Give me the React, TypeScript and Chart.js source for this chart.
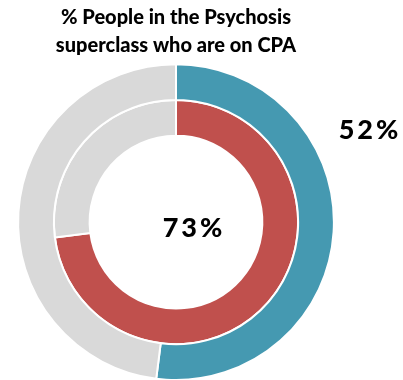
import React, { useEffect, useRef } from "react";
import { Chart, registerables } from "chart.js";

Chart.register(...registerables);

const titleLines = ["% People in the Psychosis", "superclass who are on CPA"];
const categories = ["On CPA", "Not on CPA"];
const outerValues = [52, 48];
const innerValues = [73, 27];
const outerColors = ["#4599B1", "#D9D9D9"];
const innerColors = ["#C0504D", "#D9D9D9"];

const labelPlugin = {
  id: "pctLabels",
  afterDraw(chart: any) {
    const meta = chart.getDatasetMeta(0);
    const arc = meta.data[0];
    if (!arc) return;
    const cx = arc.x;
    const cy = arc.y;
    const ctx = chart.ctx;
    ctx.save();
    ctx.fillStyle = "#000";
    ctx.font = "900 27px Lato";
    (ctx as any).letterSpacing = "3px";
    ctx.textAlign = "center";
    ctx.textBaseline = "middle";
    ctx.fillText(`${outerValues[0]}%`, cx + 194, cy - 92);
    ctx.fillText(`${innerValues[0]}%`, cx + 18, cy + 6);
    ctx.restore();
  },
};

export default function App() {
  const ref = useRef<HTMLCanvasElement>(null);
  useEffect(() => {
    if (!ref.current) return;
    const chart = new Chart(ref.current, {
      type: "doughnut",
      data: {
        labels: categories,
        datasets: [
          {
            data: outerValues,
            backgroundColor: outerColors,
            borderColor: "#ffffff",
            borderWidth: 2,
          },
          {
            data: innerValues,
            backgroundColor: innerColors,
            borderColor: "#ffffff",
            borderWidth: 2,
          },
        ],
      },
      options: {
        responsive: false,
        animation: false,
        cutout: "54.7%",
        layout: { padding: { left: 0, right: 51, top: 0, bottom: 0 } },
        plugins: {
          legend: { display: false },
          tooltip: { enabled: false },
          title: {
            display: true,
            text: titleLines,
            color: "#000",
            font: { family: "Lato", size: 20, weight: "900", lineHeight: 1.38 },
            padding: { top: 4, bottom: 4 },
          },
        },
      },
      plugins: [labelPlugin],
    });
    return () => chart.destroy();
  }, []);
  return (
    <div style={{ position: "absolute", left: 0, top: 0, width: 403, height: 380, background: "#fff" }}>
      <canvas ref={ref} width={403} height={381} style={{ display: "block" }} />
    </div>
  );
}
